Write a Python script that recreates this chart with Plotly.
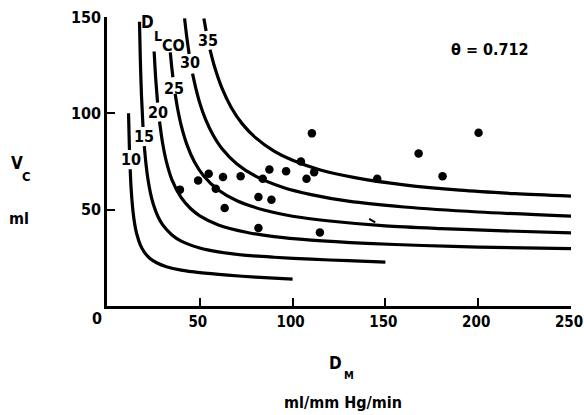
import plotly.graph_objects as go

# ---- data ----
# Curves of constant DLCO (upper segment above label, None gap, lower segment)
dl10_dm = [11.6, 12.1, None, 12.5, 13.0, 14.0, 15.0, 16.0, 18.0, 20.0, 23.0, 27.0, 32.0, 40.0, 50.0, 65.0, 80.0, 100.0]
dl10_vc = [100.0, 81.0, None, 71.0, 60.9, 49.2, 42.1, 37.5, 31.6, 28.1, 24.8, 22.3, 20.4, 18.6, 17.3, 16.0, 15.0, 14.0]

dl15_dm = [17.5, 18.0, 18.6, 19.4, None, 20.1, 21.0, 22.0, 23.5, 25.0, 27.5, 30.0, 35.0, 40.0, 50.0, 60.0, 75.0, 90.0, 110.0, 130.0, 150.0]
dl15_vc = [147.5, 126.4, 108.8, 92.9, None, 83.0, 73.7, 66.2, 58.2, 52.7, 46.3, 42.1, 36.9, 33.7, 30.1, 28.1, 26.3, 25.3, 24.3, 23.5, 22.8]

dl20_dm = [25.4, 26.2, 27.25, None, 28.3, 30.0, 32.0, 35.0, 40.0, 45.0, 50.0, 60.0, 75.0, 90.0, 110.0, 140.0, 170.0, 200.0, 250.0]
dl20_vc = [132.1, 118.7, 105.6, None, 95.8, 84.3, 74.9, 65.5, 56.2, 50.6, 46.8, 42.1, 38.3, 36.0, 34.2, 32.5, 31.4, 30.6, 29.8]

dl25_dm = [34.1, 34.8, 35.5, None, 36.7, 38.0, 40.0, 43.0, 47.0, 52.0, 60.0, 70.0, 85.0, 100.0, 120.0, 150.0, 180.0, 210.0, 250.0]
dl25_vc = [131.6, 124.7, 118.7, None, 110.1, 102.6, 93.6, 83.9, 75.0, 67.6, 60.2, 54.6, 49.7, 46.6, 44.1, 41.6, 40.2, 39.1, 38.0]

dl30_dm = [41.8, 43.0, 44.25, None, 46.1, 48.0, 50.0, 53.0, 57.0, 62.0, 70.0, 80.0, 95.0, 110.0, 130.0, 160.0, 200.0, 250.0]
dl30_vc = [149.3, 139.4, 130.8, None, 120.6, 112.4, 105.3, 97.1, 89.0, 81.6, 73.7, 67.4, 61.5, 57.8, 54.4, 51.4, 48.8, 46.6]

dl35_dm = [52.2, 53.4, None, 55.5, 58.0, 62.0, 67.0, 73.0, 80.0, 90.0, 100.0, 115.0, 135.0, 160.0, 190.0, 220.0, 250.0]
dl35_vc = [149.2, 142.7, None, 133.1, 124.0, 112.9, 102.9, 94.4, 87.4, 80.4, 75.6, 70.6, 66.4, 62.9, 60.1, 58.3, 57.0]

curves = [
    (dl10_dm, dl10_vc),
    (dl15_dm, dl15_vc),
    (dl20_dm, dl20_vc),
    (dl25_dm, dl25_vc),
    (dl30_dm, dl30_vc),
    (dl35_dm, dl35_vc),
]

# Measured subjects
subj_dm = [39.3, 49.1, 54.8, 58.6, 62.5, 63.4, 72.0, 81.6, 81.6, 83.9, 87.5, 88.6,
           96.5, 104.5, 107.5, 110.4, 111.6, 114.7, 145.6, 167.9, 180.8, 200.2]
subj_vc = [60.4, 65.1, 68.7, 60.9, 67.0, 50.9, 67.4, 56.6, 40.5, 66.0, 70.8, 55.2,
           70.0, 75.0, 66.0, 89.6, 69.4, 38.2, 66.0, 79.2, 67.4, 89.9]

# small speck in the scan
speck_dm = [142.9]
speck_vc = [44.3]

# curve labels
lab_text = ["10", "15", "20", "25", "30", "35"]
lab_dm = [12.8, 20.0, 27.5, 35.9, 44.6, 54.3]
lab_vc = [75.9, 87.9, 100.4, 113.0, 126.6, 138.0]

x_ticks = [50, 100, 150, 200, 250]
y_ticks = [50, 100, 150]

FONT = "DejaVu Sans Condensed, sans-serif"

fig = go.Figure()
for dm, vc in curves:
    fig.add_trace(go.Scatter(
        x=dm, y=vc, mode="lines",
        line=dict(color="black", width=3.2, shape="spline", smoothing=0.8),
        connectgaps=False, hoverinfo="skip", showlegend=False))

fig.add_trace(go.Scatter(
    x=subj_dm, y=subj_vc, mode="markers",
    marker=dict(color="black", size=8.5, line=dict(width=0)),
    showlegend=False))

fig.add_trace(go.Scatter(
    x=speck_dm, y=speck_vc, mode="markers",
    marker=dict(symbol="line-ew", size=5, angle=30, line=dict(color="black", width=2)),
    showlegend=False))

ann = []
for t, x, y in zip(lab_text, lab_dm, lab_vc):
    ann.append(dict(x=x, y=y, xref="x", yref="y", text="<b>%s</b>" % t,
                    showarrow=False, font=dict(size=16, color="black", family=FONT)))

X0, X1, Y0, Y1 = 107, 571, 17, 306

def pix(text, px, py, size):
    # place a text at a pixel position of the 584x415 picture
    return dict(x=(px - X0) / (X1 - X0), y=(Y1 - py) / (Y1 - Y0), xref="paper", yref="paper",
                text="<b>%s</b>" % text, showarrow=False, xanchor="center", yanchor="middle",
                font=dict(size=size, color="black", family=FONT))

ann += [
    pix("D", 147, 22.5, 17),
    pix("L", 157.5, 36, 14),
    pix("CO", 173, 45.5, 16),
    pix("θ = 0.712", 490, 50, 16),
    pix("V", 17, 162.5, 17),
    pix("C", 26.5, 176.5, 13),
    pix("ml", 19, 218, 16),
    pix("D", 335, 362.5, 17),
    pix("M", 348.5, 375.5, 11),
    pix("ml/mm Hg/min", 342.5, 402.5, 16),
    pix("0", 97, 318, 16),
]

fig.update_layout(
    width=584, height=415,
    margin=dict(l=X0, r=584 - X1, t=Y0, b=415 - Y1),
    paper_bgcolor="white", plot_bgcolor="white",
    annotations=ann,
    showlegend=False,
    font=dict(family=FONT, color="black"),
    xaxis=dict(range=[0, 250], tickvals=x_ticks, ticktext=["<b>%d</b>" % v for v in x_ticks],
               ticks="inside", ticklen=8, tickwidth=2, tickcolor="black",
               showline=True, linecolor="black", linewidth=2.5,
               showgrid=False, zeroline=False, automargin=False,
               ticklabeloverflow="allow", ticklabelshift=-2,
               tickfont=dict(size=15, family=FONT, color="black")),
    yaxis=dict(range=[0, 150], tickvals=y_ticks, ticktext=["<b>%d</b>" % v for v in y_ticks],
               ticks="inside", ticklen=8, tickwidth=2, tickcolor="black",
               showline=True, linecolor="black", linewidth=2.5,
               showgrid=False, zeroline=False, automargin=False,
               ticklabeloverflow="allow",
               tickfont=dict(size=16, family=FONT, color="black")),
)

fig.write_html("out.html", config={"displayModeBar": False},
               post_script="document.body.style.margin='0';document.body.style.overflow='hidden';")
